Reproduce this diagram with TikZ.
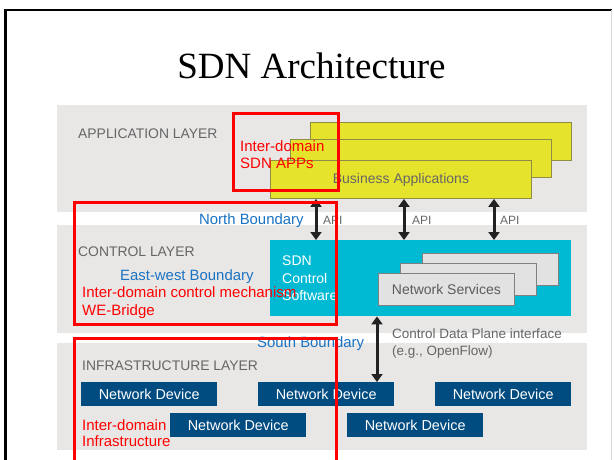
\documentclass[tikz,border=0pt]{standalone}
\usepackage{fontspec}
\setmainfont{Liberation Serif}
\newfontfamily\sansfam{Liberation Sans}
\usetikzlibrary{arrows.meta}

\definecolor{bandgray}{HTML}{E9E7E6}
\definecolor{appyellow}{HTML}{E6E32C}
\definecolor{appedge}{HTML}{8E8C45}
\definecolor{ctrlcyan}{HTML}{00BAD3}
\definecolor{nsfill}{HTML}{E2E2E2}
\definecolor{nsedge}{HTML}{808080}
\definecolor{devblue}{HTML}{004B80}
\definecolor{txtgray}{HTML}{666666}
\definecolor{bndblue}{HTML}{1A72C2}
\definecolor{markred}{HTML}{FF0000}
\definecolor{arrowblk}{HTML}{222222}

\tikzset{
  band/.style={fill=bandgray, draw=none},
  appbox/.style={draw=appedge, line width=0.9pt, fill=appyellow, anchor=north west,
    minimum width=261pt, minimum height=38pt, inner sep=0pt,
    font=\sansfam\fontsize{14}{16}\selectfont, text=txtgray},
  ctrlbox/.style={fill=ctrlcyan, draw=none, anchor=north west,
    minimum width=301pt, minimum height=76pt, inner sep=0pt},
  nsbox/.style={draw=nsedge, line width=0.9pt, fill=nsfill, anchor=north west,
    minimum width=136pt, minimum height=32pt, inner sep=0pt,
    font=\sansfam\fontsize{14}{16}\selectfont, text=txtgray!90!black},
  device/.style={fill=devblue, draw=none, anchor=north west,
    minimum width=136pt, minimum height=24pt, inner sep=0pt,
    font=\sansfam\fontsize{14.4}{16}\selectfont, text=white},
  layerlbl/.style={anchor=base west, inner sep=0pt, text=txtgray,
    font=\sansfam\fontsize{13.9}{16}\selectfont},
  apilbl/.style={anchor=base west, inner sep=0pt, text=txtgray,
    font=\sansfam\fontsize{12}{14}\selectfont},
  graylbl/.style={anchor=base west, inner sep=0pt, text=txtgray,
    font=\sansfam\fontsize{13.5}{16}\selectfont},
  sdnlbl/.style={anchor=base west, inner sep=0pt, text=white,
    font=\sansfam\fontsize{14}{16}\selectfont},
  bluelbl/.style={anchor=base west, inner sep=0pt, text=bndblue,
    font=\sansfam\fontsize{14.9}{17}\selectfont},
  redlbl/.style={anchor=base west, inner sep=0pt, text=markred,
    font=\sansfam\fontsize{15}{17}\selectfont},
  redbox/.style={draw=markred, line width=3pt},
  dbl/.style={arrowblk, line width=3pt,
    {Triangle[width=11pt,length=8pt]}-{Triangle[width=11pt,length=8pt]}},
}

\begin{document}
\begin{tikzpicture}[x=1pt, y=-1pt]
\useasboundingbox (0,0) rectangle (614,459);

% slide frame
\draw[line width=2.5pt, black] (5.5,470) -- (5.5,10) -- (612,10);
\draw[line width=0.8pt, black!15] (611,10) -- (611,470);

% title
\node[font=\fontsize{37}{40}\selectfont, anchor=base] (title) at (311.5,78) {SDN Architecture};

% layer bands
\fill[band] (57,105) rectangle (587,212);
\fill[band] (57,225) rectangle (587,333);
\fill[band] (57,343) rectangle (587,450);

% application layer
\node[appbox] (appback) at (310,122) {};
\node[appbox] (appmid) at (290,139) {};
\node[appbox] (appfront) at (270,160) {Business Applications};

% control layer
\node[ctrlbox] (sdn) at (270,240) {};
\node[nsbox] (nsback) at (422,253) {};
\node[nsbox] (nsmid) at (400,263) {};
\node[nsbox] (nsfront) at (378,273) {Network Services};

% infrastructure layer
\node[device] (dev1) at (81,382) {Network Device};
\node[device] (dev2) at (258,382) {Network Device};
\node[device] (dev3) at (435,382) {Network Device};
\node[device] (dev4) at (170,413) {Network Device};
\node[device] (dev5) at (347,413) {Network Device};

% interface arrows
\coordinate (xa) at (316,0);
\coordinate (xb) at (404,0);
\coordinate (xc) at (494,0);
\coordinate (xd) at (377,0);
\draw[dbl] (appfront.south -| xa) -- (sdn.north -| xa);
\draw[dbl] (appfront.south -| xb) -- (sdn.north -| xb);
\draw[dbl] (appfront.south -| xc) -- (sdn.north -| xc);
\draw[dbl] (sdn.south -| xd) -- (dev2.north -| xd);

% labels
\node[layerlbl] (applbl) at (78,138) {APPLICATION LAYER};
\node[layerlbl] (ctrllbl) at (78,256) {CONTROL LAYER};
\node[layerlbl] (infralbl) at (82,370) {INFRASTRUCTURE LAYER};
\node[apilbl] (api1) at (323,224) {API};
\node[apilbl] (api2) at (412,224) {API};
\node[apilbl] (api3) at (500,224) {API};
\node[sdnlbl] (sdn1) at (282,265) {SDN};
\node[sdnlbl] (sdn2) at (282,283) {Control};
\node[sdnlbl] (sdn3) at (282,300) {Software};
\node[graylbl] (cdp1) at (392,338) {Control Data Plane interface};
\node[graylbl] (cdp2) at (392,355) {(e.g., OpenFlow)};

% boundary annotations
\node[bluelbl] (north) at (199,224) {North Boundary};
\node[bluelbl] (eastwest) at (120,280) {East-west Boundary};
\node[bluelbl] (south) at (257,347) {South Boundary};

% inter-domain markings
\draw[redbox] (233,113) rectangle (338,190);
\draw[redbox] (74,202) rectangle (336,324);
\draw[redbox] (74,338) rectangle (336,475);
\node[redlbl] (r1a) at (240,151) {Inter-domain};
\node[redlbl] (r1b) at (240,168) {SDN APPs};
\node[redlbl] (r2a) at (82,297) {Inter-domain control mechanism};
\node[redlbl] (r2b) at (82,315) {WE-Bridge};
\node[redlbl] (r3a) at (82,430) {Inter-domain};
\node[redlbl] (r3b) at (82,446) {Infrastructure};
\end{tikzpicture}
\end{document}
